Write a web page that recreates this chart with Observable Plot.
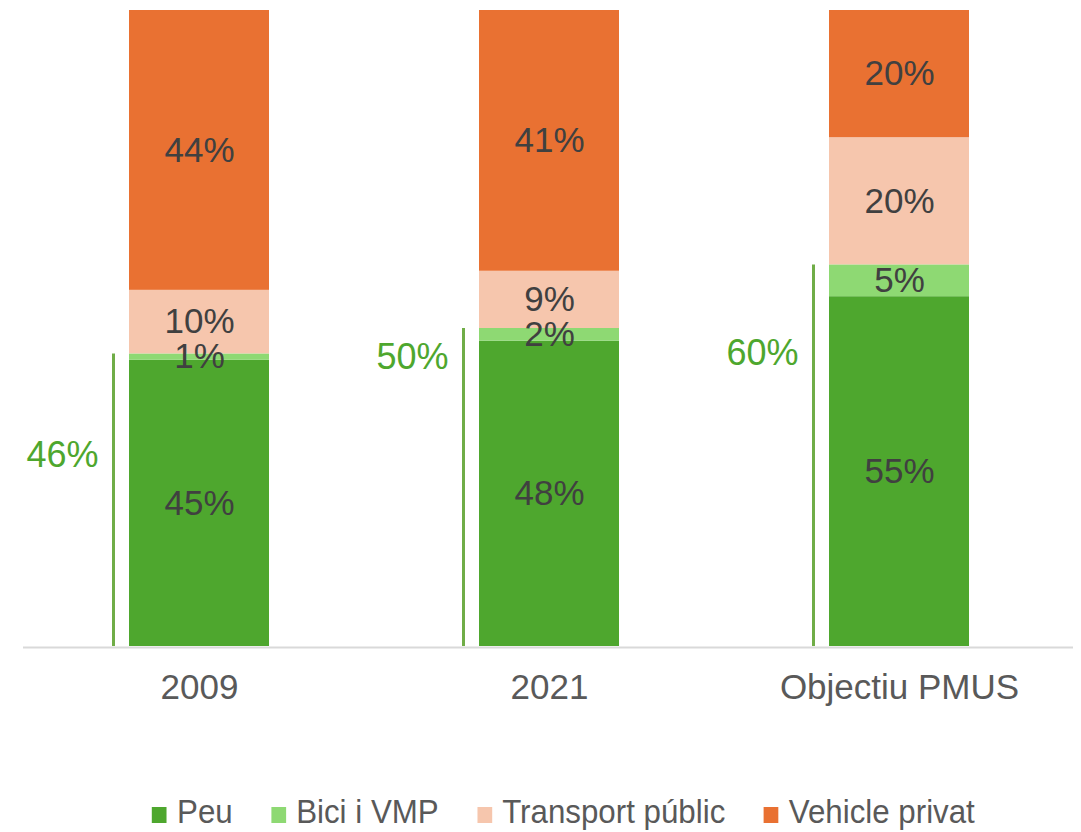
<!DOCTYPE html>
<html>
<head>
<meta charset="utf-8">
<script src="https://cdn.jsdelivr.net/npm/d3@7"></script>
<script src="https://cdn.jsdelivr.net/npm/@observablehq/plot@0.6"></script>
<style>
  html, body { margin: 0; padding: 0; background: #fff; }
  body { font-family: "Liberation Sans", Arial, sans-serif; width: 1081px; height: 832px; overflow: hidden; }
  #chart svg { display: block; }
  #legend {
    display: flex; justify-content: center; align-items: center;
    height: 34px; line-height: 34px; font-size: 34px; color: #595959;
    white-space: nowrap; margin-left: 46px; margin-top: -5px; transform: scaleX(0.92);
  }
  #legend .item { display: flex; align-items: center; margin: 0 21px; }
  #legend .sw { display: inline-block; width: 16px; height: 16px; margin-right: 11px; margin-top: 8px; }
</style>
</head>
<body>
<div id="chart"></div>
<div id="legend"></div>
<script>
const categories = ["2009", "2021", "Objectiu PMUS"];
const modes = ["Peu", "Bici i VMP", "Transport públic", "Vehicle privat"];
const peu = [45, 48, 55];
const bici = [1, 2, 5];
const transport = [10, 9, 20];
const vehicle = [44, 41, 20];
const sostenible = [46, 50, 60];
const sostenibleLabelAt = [30, 45.5, 46];
const colors = ["#4EA72E", "#8ED973", "#F6C6AD", "#E97132"];

const series = [peu, bici, transport, vehicle];
const rows = [];
categories.forEach((c, i) => {
  modes.forEach((m, j) => rows.push({cat: c, mode: m, value: series[j][i]}));
});
const totals = categories.map((c, i) => ({cat: c, total: sostenible[i], labelAt: sostenibleLabelAt[i]}));

const plot = Plot.plot({
  width: 1081,
  height: 799,
  marginTop: 10,
  marginBottom: 153,
  marginLeft: 23,
  marginRight: 8,
  style: {fontFamily: "'Liberation Sans', Arial, sans-serif", background: "#fff"},
  x: {domain: categories, range: [128, 969], paddingInner: 0.6006, paddingOuter: 0, axis: null},
  y: {domain: [0, 100], axis: null},
  color: {domain: modes, range: colors},
  marks: [
    Plot.ruleY([0], {stroke: "#d9d9d9", strokeWidth: 2, dy: 1}),
    Plot.barY(rows, Plot.stackY({x: "cat", y: "value", z: "mode", fill: "mode", order: modes})),
    Plot.text(rows, Plot.stackY({x: "cat", y: "value", z: "mode", order: modes, text: d => d.value + "%", fill: "#404040", fontSize: 35})),
    Plot.ruleX(totals, {x: "cat", y1: 0, y2: "total", dx: -86, stroke: "#70AD47", strokeWidth: 3}),
    Plot.text(totals, {x: "cat", y: "labelAt", text: d => d.total + "%", textAnchor: "end", dx: -101, fill: "#4EA72E", fontSize: 36}),
    Plot.axisX({domain: categories, tickSize: 0, tickPadding: 28, fontSize: 35, fill: "#595959", label: null})
  ]
});
document.getElementById("chart").appendChild(plot);

const legend = document.getElementById("legend");
modes.forEach((m, j) => {
  const item = document.createElement("span");
  item.className = "item";
  const sw = document.createElement("span");
  sw.className = "sw";
  sw.style.background = colors[j];
  const t = document.createElement("span");
  t.textContent = m;
  item.appendChild(sw);
  item.appendChild(t);
  legend.appendChild(item);
});
</script>
</body>
</html>
